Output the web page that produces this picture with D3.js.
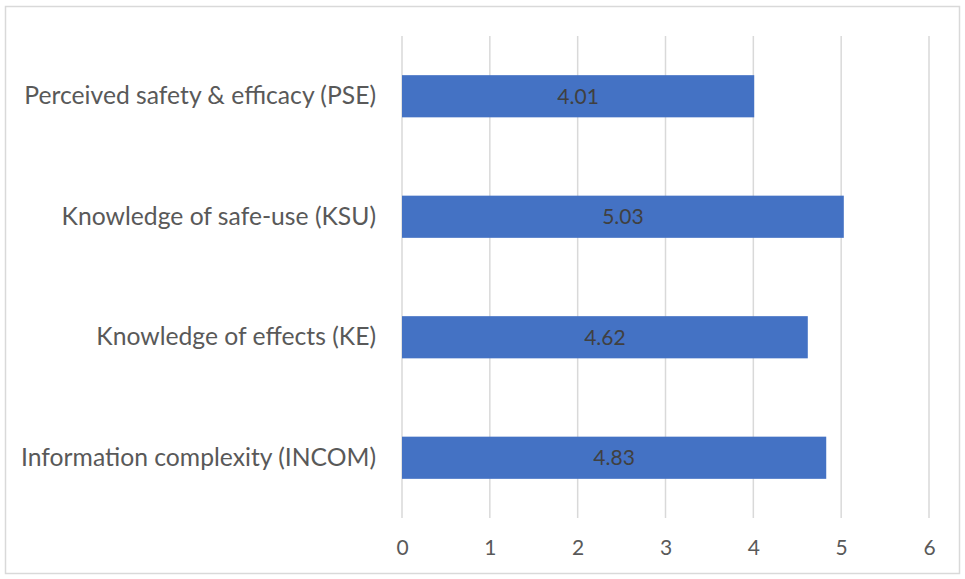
<!DOCTYPE html>
<html>
<head>
<meta charset="utf-8">
<script src="https://cdn.jsdelivr.net/npm/d3@7"></script>
<style>
  html, body { margin: 0; padding: 0; background: #fff; }
  svg { display: block; font-family: Lato, "Noto Sans", sans-serif; }
</style>
</head>
<body>
<svg id="chart" width="965" height="579"></svg>
<script>
// Mean scores per construct (top to bottom)
const categories = [
  "Perceived safety & efficacy (PSE)",
  "Knowledge of safe-use (KSU)",
  "Knowledge of effects (KE)",
  "Information complexity (INCOM)"
];
const values = [4.01, 5.03, 4.62, 4.83];
const xTicks = [0, 1, 2, 3, 4, 5, 6];

const svg = d3.select("#chart");
const W = 965, H = 579;
const margin = { top: 36, right: 36, bottom: 61, left: 402 };
const innerW = W - margin.left - margin.right;
const innerH = H - margin.top - margin.bottom;

// Chart area outline
svg.append("rect")
  .attr("x", 5.5).attr("y", 6.5)
  .attr("width", W - 11).attr("height", H - 12)
  .attr("fill", "#fff")
  .attr("stroke", "#d9d9d9")
  .attr("stroke-width", 1.5);

const g = svg.append("g").attr("transform", `translate(${margin.left},${margin.top})`);

const x = d3.scaleLinear().domain([0, 6]).range([0, innerW]);
const y = d3.scaleBand().domain(categories).range([0, innerH]).paddingInner(0.65).paddingOuter(0.325);

// Vertical gridlines
g.append("g")
  .selectAll("line")
  .data(xTicks)
  .join("line")
  .attr("x1", d => x(d)).attr("x2", d => x(d))
  .attr("y1", 0).attr("y2", innerH)
  .attr("stroke", "#d9d9d9")
  .attr("stroke-width", 1.5);

// Bars
g.append("g")
  .selectAll("rect")
  .data(values)
  .join("rect")
  .attr("x", x(0))
  .attr("y", (d, i) => y(categories[i]))
  .attr("width", d => x(d) - x(0))
  .attr("height", y.bandwidth())
  .attr("fill", "#4472c4");

// Value labels centered in bars
g.append("g")
  .selectAll("text")
  .data(values)
  .join("text")
  .attr("x", d => (x(0) + x(d)) / 2)
  .attr("y", (d, i) => y(categories[i]) + y.bandwidth() / 2)
  .attr("dy", "0.36em")
  .attr("text-anchor", "middle")
  .attr("fill", "#404040")
  .attr("font-size", 21)
  .text(d => d.toFixed(2));

// X axis tick labels
const xAxis = d3.axisBottom(x).tickValues(xTicks).tickSize(0).tickPadding(22).tickFormat(d3.format("d"));
const xg = g.append("g").attr("transform", `translate(0,${innerH})`).call(xAxis);
xg.select(".domain").remove();
xg.selectAll("text").attr("fill", "#595959").attr("font-size", 21).attr("font-family", "Lato, 'Noto Sans', sans-serif");

// Category labels
const yAxis = d3.axisLeft(y).tickSize(0).tickPadding(26);
const yg = g.append("g").call(yAxis);
yg.select(".domain").remove();
yg.selectAll("text").attr("fill", "#595959").attr("font-size", 24.7).attr("font-family", "Lato, 'Noto Sans', sans-serif");
</script>
</body>
</html>
